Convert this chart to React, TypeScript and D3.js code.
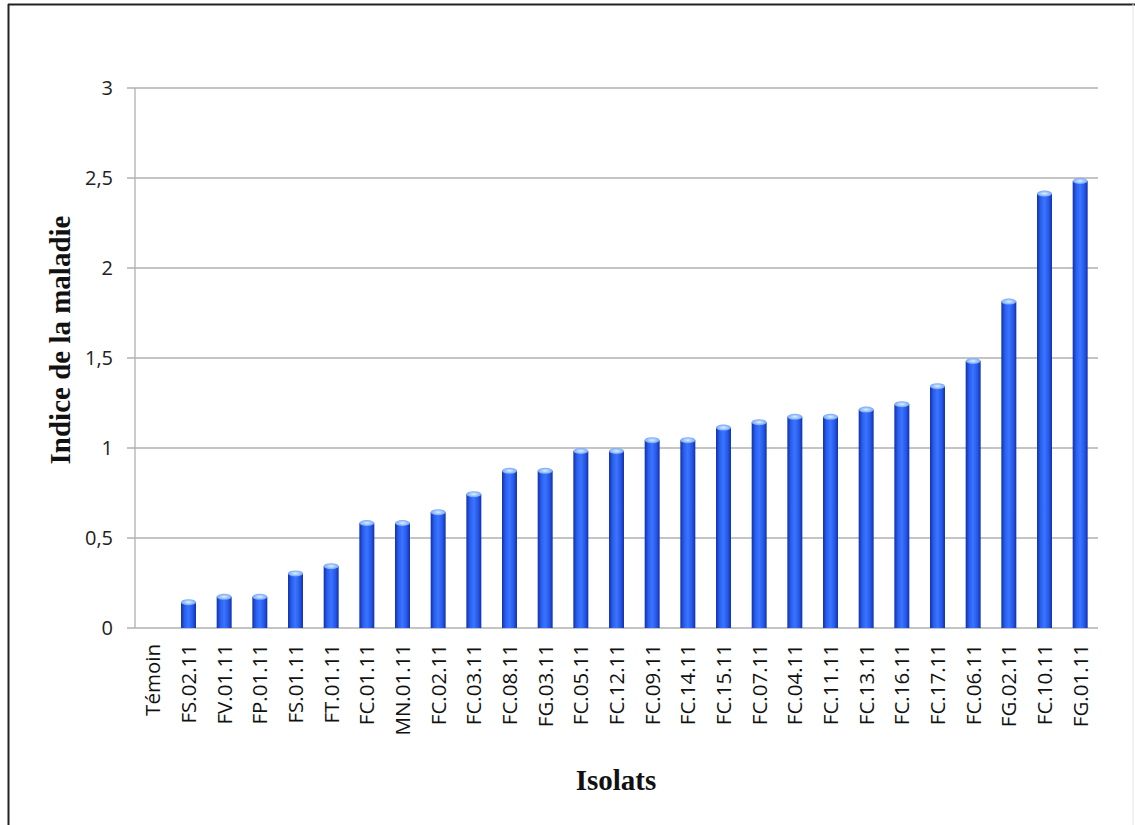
import React from "react";
import * as d3 from "d3";

const categories = [
  "Témoin", "FS.02.11", "FV.01.11", "FP.01.11", "FS.01.11", "FT.01.11", "FC.01.11",
  "MN.01.11", "FC.02.11", "FC.03.11", "FC.08.11", "FG.03.11", "FC.05.11", "FC.12.11",
  "FC.09.11", "FC.14.11", "FC.15.11", "FC.07.11", "FC.04.11", "FC.11.11", "FC.13.11",
  "FC.16.11", "FC.17.11", "FC.06.11", "FG.02.11", "FC.10.11", "FG.01.11",
];
const values = [
  0, 0.16, 0.19, 0.19, 0.32, 0.36, 0.6,
  0.6, 0.66, 0.76, 0.89, 0.89, 1.0, 1.0,
  1.06, 1.06, 1.13, 1.16, 1.19, 1.19, 1.23,
  1.26, 1.36, 1.5, 1.83, 2.43, 2.5,
];
const yTicks = [0, 0.5, 1, 1.5, 2, 2.5, 3];
const yTickLabels = ["0", "0,5", "1", "1,5", "2", "2,5", "3"];
const yTitle = "Indice de la maladie";
const xTitle = "Isolats";

export default function App() {
  const W = 1135, H = 825;
  const left = 135, right = 1098, top = 88, bottom = 628;
  const x = d3.scaleBand<string>().domain(categories).range([left, right]).paddingInner(0.58).paddingOuter(0.29);
  const y = d3.scaleLinear().domain([0, 3]).range([bottom, top]);
  const bw = x.bandwidth();
  const sans = "'Open Sans', 'Liberation Sans', sans-serif";
  const serif = "'Liberation Serif', 'Times New Roman', serif";
  return (
    <svg width={W} height={H} style={{ position: "absolute", left: 0, top: 0 }}>
      <defs>
        <linearGradient id="barg" x1="0" x2="1" y1="0" y2="0">
          <stop offset="0" stopColor="#1230a8" />
          <stop offset="0.25" stopColor="#2a60f0" />
          <stop offset="0.5" stopColor="#3a74ff" />
          <stop offset="0.78" stopColor="#2658e8" />
          <stop offset="1" stopColor="#1230a8" />
        </linearGradient>
        <radialGradient id="capg" cx="0.5" cy="0.5" r="0.6">
          <stop offset="0" stopColor="#e0f0ff" />
          <stop offset="1" stopColor="#5a95ff" />
        </radialGradient>
      </defs>
      <rect x={0} y={0} width={W} height={H} fill="#fff" />
      <line x1={8} x2={W} y1={4.5} y2={4.5} stroke="#222" strokeWidth={2} />
      <line x1={8.5} x2={8.5} y1={4} y2={H} stroke="#222" strokeWidth={2} />
      <line x1={1133} x2={1133} y1={4} y2={H} stroke="#e4e4e4" strokeWidth={1} />
      {yTicks.map((t, i) => (
        <g key={"t" + i}>
          <line x1={left - 8} x2={right} y1={y(t)} y2={y(t)} stroke="#b0b0b0" strokeWidth={1.3} />
          <text x={113} y={y(t)} dy="0.36em" textAnchor="end" fontFamily={sans} fontSize={20} fill="#222">
            {yTickLabels[i]}
          </text>
        </g>
      ))}
      <line x1={left} x2={left} y1={top} y2={bottom} stroke="#b0b0b0" strokeWidth={1.3} />
      {categories.map((c, i) => {
        const v = values[i];
        if (v <= 0) return null;
        const bx = x(c)!;
        const by = y(v);
        const capH = 6;
        return (
          <g key={c}>
            <rect x={bx} y={by + capH / 2} width={bw} height={bottom - by - capH / 2} fill="url(#barg)" />
            <ellipse cx={bx + bw / 2} cy={by + capH / 2} rx={bw / 2} ry={capH / 2} fill="url(#capg)" />
          </g>
        );
      })}
      {categories.map((c) => {
        const cx = x(c)! + bw / 2;
        return (
          <text key={"l" + c} transform={`translate(${cx + 7.5},${bottom + 16}) rotate(-90)`} textAnchor="end"
            fontFamily={sans} fontSize={20.5} fill="#111">
            {c}
          </text>
        );
      })}
      <text transform={`translate(70,340) rotate(-90)`} textAnchor="middle" fontFamily={serif}
        fontWeight="bold" fontSize={29} fill="#111">
        {yTitle}
      </text>
      <text x={616} y={790} textAnchor="middle" fontFamily={serif} fontWeight="bold" fontSize={29} fill="#111">
        {xTitle}
      </text>
    </svg>
  );
}
